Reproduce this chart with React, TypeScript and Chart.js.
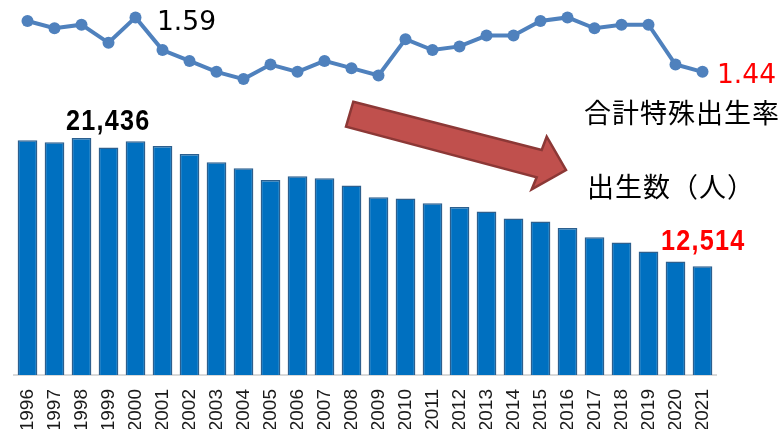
import React, { useEffect, useRef } from "react";
import { Chart, registerables } from "chart.js";

Chart.register(...registerables);

const years = ["1996","1997","1998","1999","2000","2001","2002","2003","2004","2005","2006","2007","2008","2009","2010","2011","2012","2013","2014","2015","2016","2017","2018","2019","2020","2021"];
const births = [21280, 21140, 21436, 20770, 21210, 20880, 20320, 19750, 19330, 18520, 18770, 18630, 18130, 17310, 17220, 16900, 16640, 16320, 15830, 15620, 15180, 14530, 14160, 13540, 12840, 12514];
const tfr = [1.58, 1.56, 1.57, 1.52, 1.59, 1.50, 1.47, 1.44, 1.42, 1.46, 1.44, 1.47, 1.45, 1.43, 1.53, 1.50, 1.51, 1.54, 1.54, 1.58, 1.59, 1.56, 1.57, 1.57, 1.46, 1.44];

const labelTfrLabel = "合計特殊出生率";
const labelBirths = "出生数（人）";
const labelTfrMax = "1.59";
const labelTfrLast = "1.44";
const labelBirthsMax = "21,436";
const labelBirthsLast = "12,514";

function condensedText(ctx: CanvasRenderingContext2D, text: string, x: number, y: number, sx: number) {
  ctx.save();
  ctx.translate(x, y);
  ctx.scale(sx, 1);
  ctx.fillText(text, 0, 0);
  ctx.restore();
}

const annotationPlugin = {
  id: "annotations",
  afterDatasetsDraw(chart: any) {
    const ctx = chart.ctx as CanvasRenderingContext2D;
    ctx.save();
    // arrow
    const pts: [number, number][] = [
      [353.3, 101.7], [541.7, 150], [546.7, 136.7], [566, 170],
      [531.7, 189.3], [536.7, 177.3], [346, 126.7],
    ];
    ctx.beginPath();
    pts.forEach(([x, y], i) => (i === 0 ? ctx.moveTo(x, y) : ctx.lineTo(x, y)));
    ctx.closePath();
    ctx.fillStyle = "#C0504D";
    ctx.fill();
    ctx.lineWidth = 2.5;
    ctx.strokeStyle = "#8C3836";
    ctx.lineJoin = "miter";
    ctx.stroke();

    // rate labels
    ctx.textBaseline = "alphabetic";
    ctx.textAlign = "left";
    ctx.font = "26.5px 'DejaVu Sans', sans-serif";
    ctx.fillStyle = "#000";
    ctx.fillText(labelTfrMax, 157, 30);
    ctx.fillStyle = "#FF0000";
    ctx.fillText(labelTfrLast, 717, 83);

    // births labels (condensed bold)
    ctx.font = "bold 30px 'Liberation Sans', Arial, sans-serif";
    (ctx as any).letterSpacing = "1.5px";
    ctx.fillStyle = "#000";
    condensedText(ctx, labelBirthsMax, 66, 130, 0.84);
    ctx.fillStyle = "#FF0000";
    condensedText(ctx, labelBirthsLast, 661, 250, 0.84);

    // series names
    ctx.font = "27px 'Noto Sans CJK JP', sans-serif";
    (ctx as any).letterSpacing = "1px";
    ctx.fillStyle = "#000";
    ctx.textBaseline = "ideographic";
    ctx.fillText(labelTfrLabel, 584, 126);
    ctx.fillText(labelBirths, 587, 200);
    ctx.restore();
  },
};

export default function App() {
  const ref = useRef<HTMLCanvasElement>(null);
  useEffect(() => {
    if (!ref.current) return;
    const chart = new Chart(ref.current, {
      type: "bar",
      data: {
        labels: years,
        datasets: [
          {
            type: "line",
            data: tfr,
            yAxisID: "y1",
            borderColor: "#4F81BD",
            backgroundColor: "#4F81BD",
            borderWidth: 4,
            pointRadius: 6,
            pointBorderWidth: 0,
            tension: 0,
            clip: false as any,
            order: 0,
          } as any,
          {
            type: "bar",
            data: births,
            yAxisID: "y",
            backgroundColor: "#0070C0",
            borderColor: "#2C5F8E",
            borderWidth: 1.5,
            barPercentage: 0.73,
            categoryPercentage: 1,
            order: 1,
          },
        ],
      },
      options: {
        responsive: false,
        animation: false,
        layout: { autoPadding: false, padding: { left: 14, right: 67, top: 0, bottom: 0 } },
        plugins: { legend: { display: false }, tooltip: { enabled: false } },
        scales: {
          x: {
            grid: { display: false },
            border: { display: true, color: "#D9D9D9", width: 2 },
            ticks: {
              minRotation: 90,
              maxRotation: 90,
              autoSkip: false,
              padding: 6,
              color: "#1a1a1a",
              font: { family: "'Liberation Sans', Arial, sans-serif", size: 19 },
            },
            afterFit: (s: any) => {
              s.height = 54;
            },
          },
          y: { display: false, min: 4950, max: 31030 },
          y1: { display: false, min: 0.604, max: 1.638 },
        },
      },
      plugins: [annotationPlugin],
    });
    return () => chart.destroy();
  }, []);
  return (
    <div style={{ position: "absolute", left: 0, top: 0, width: 783, height: 429, background: "#fff" }}>
      <canvas ref={ref} width={783} height={429} style={{ width: 783, height: 429, display: "block" }} />
    </div>
  );
}
